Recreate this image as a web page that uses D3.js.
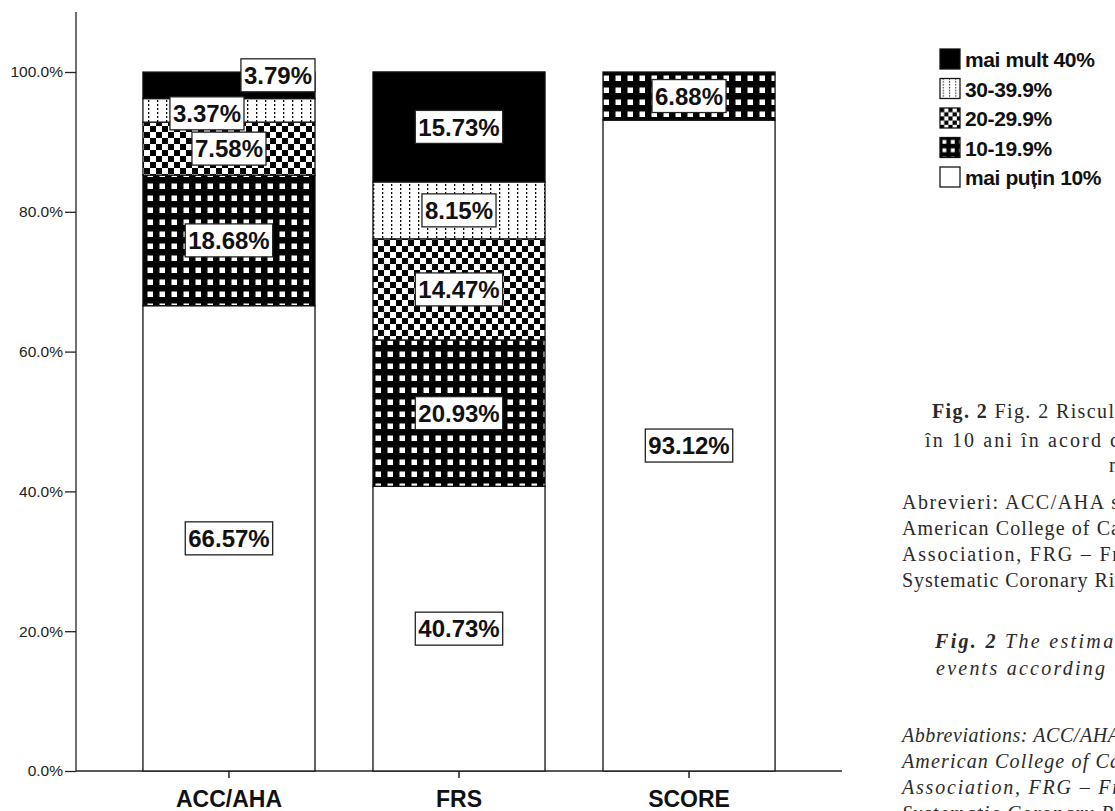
<!DOCTYPE html>
<html>
<head>
<meta charset="utf-8">
<script src="https://cdn.jsdelivr.net/npm/d3@7"></script>
<style>
  html, body { margin: 0; padding: 0; background: #fff; }
  svg { display: block; }
</style>
</head>
<body>
<div id="chart"></div>
<script>
/* ------------------------------------------------------------
   DATA
------------------------------------------------------------- */
const categories = ["ACC/AHA", "FRS", "SCORE"];
const groups = ["mai puțin 10%", "10-19.9%", "20-29.9%", "30-39.9%", "mai mult 40%"];
const accAha = [66.57, 18.68, 7.58, 3.37, 3.79];
const frs = [40.73, 20.93, 14.47, 8.15, 15.73];
const score = [93.12, 6.88, 0, 0, 0];
const yTicks = [0, 20, 40, 60, 80, 100];

const seriesByCat = [accAha, frs, score];

/* ------------------------------------------------------------
   SVG SETUP
------------------------------------------------------------- */
const W = 1115, H = 811;
const svg = d3.select("#chart").append("svg")
    .attr("width", W).attr("height", H);

const sans = "'Liberation Sans', Arial, sans-serif";
const serif = "'Liberation Serif', 'Times New Roman', serif";

/* ------------------------------------------------------------
   PATTERNS
------------------------------------------------------------- */
const defs = svg.append("defs");

// 10-19.9%: black with white squares
const p10 = defs.append("pattern").attr("id", "p10")
    .attr("patternUnits", "userSpaceOnUse").attr("width", 12).attr("height", 12);
p10.append("rect").attr("width", 12).attr("height", 12).attr("fill", "#000");
p10.append("rect").attr("x", 3.5).attr("y", 3.5).attr("width", 5.5).attr("height", 5.5).attr("fill", "#fff");

// 20-29.9%: checkerboard
const p20 = defs.append("pattern").attr("id", "p20")
    .attr("patternUnits", "userSpaceOnUse").attr("width", 12).attr("height", 12);
p20.append("rect").attr("width", 12).attr("height", 12).attr("fill", "#fff");
p20.append("rect").attr("width", 6).attr("height", 6).attr("fill", "#000");
p20.append("rect").attr("x", 6).attr("y", 6).attr("width", 6).attr("height", 6).attr("fill", "#000");

// 30-39.9%: dotted vertical lines
const p30 = defs.append("pattern").attr("id", "p30")
    .attr("patternUnits", "userSpaceOnUse").attr("width", 9).attr("height", 4);
p30.append("rect").attr("width", 9).attr("height", 4).attr("fill", "#fff");
p30.append("rect").attr("x", 4).attr("y", 0).attr("width", 1.3).attr("height", 2).attr("fill", "#000");

const fills = ["#fff", "url(#p10)", "url(#p20)", "url(#p30)", "#000"];

/* ------------------------------------------------------------
   SCALES
------------------------------------------------------------- */
const x = d3.scaleBand()
    .domain(categories)
    .range([76, 842])
    .paddingInner(0.252)
    .paddingOuter(0.291);

const y = d3.scaleLinear().domain([0, 100]).range([771, 72]);

/* ------------------------------------------------------------
   STACK
------------------------------------------------------------- */
const table = categories.map((c, i) => {
    const row = { cat: c };
    groups.forEach((g, j) => { row[g] = seriesByCat[i][j]; });
    return row;
});
const stacked = d3.stack().keys(groups)(table);

/* ------------------------------------------------------------
   AXES
------------------------------------------------------------- */
const yAxis = svg.append("g")
    .attr("transform", "translate(76,0)")
    .call(d3.axisLeft(y).tickValues(yTicks).tickSize(11).tickPadding(2)
        .tickFormat(d => d3.format(".1f")(d) + "%"));
yAxis.select(".domain").remove();
yAxis.selectAll(".tick line").attr("stroke", "#222").attr("stroke-width", 1.3);
yAxis.selectAll(".tick text")
    .attr("font-family", sans).attr("font-size", 15.5).attr("fill", "#222");

svg.append("line")
    .attr("x1", 76).attr("x2", 76).attr("y1", 12).attr("y2", 771)
    .attr("stroke", "#222").attr("stroke-width", 1.3);
svg.append("line")
    .attr("x1", 76).attr("x2", 842).attr("y1", 771).attr("y2", 771)
    .attr("stroke", "#222").attr("stroke-width", 1.3);

const xAxis = svg.append("g")
    .attr("transform", "translate(0,771)")
    .call(d3.axisBottom(x).tickSize(7).tickPadding(8));
xAxis.select(".domain").remove();
xAxis.selectAll(".tick line").attr("stroke", "#222").attr("stroke-width", 1.5);
xAxis.selectAll(".tick text")
    .attr("font-family", sans).attr("font-size", 23).attr("font-weight", "bold")
    .attr("fill", "#111").attr("dy", "0.9em");

/* ------------------------------------------------------------
   BARS
------------------------------------------------------------- */
const layers = svg.append("g").selectAll("g")
    .data(stacked).enter().append("g")
    .attr("fill", (d, i) => fills[i]);

layers.selectAll("rect")
    .data(d => d.filter(s => s[1] - s[0] > 0))
    .enter().append("rect")
    .attr("x", d => x(d.data.cat))
    .attr("width", x.bandwidth())
    .attr("y", d => y(d[1]))
    .attr("height", d => y(d[0]) - y(d[1]))
    .attr("stroke", "#111")
    .attr("stroke-width", 1.3);

/* ------------------------------------------------------------
   VALUE LABELS (boxed, with a simple overlap nudge)
------------------------------------------------------------- */
const labelG = svg.append("g");
const boxH = 33, padX = 3;

categories.forEach((c, ci) => {
    let prev = null;
    groups.forEach((g, gi) => {
        const seg = stacked[gi][ci];
        const v = seg[1] - seg[0];
        if (v <= 0) return;
        const cy = y((seg[0] + seg[1]) / 2);
        const lg = labelG.append("g");
        const t = lg.append("text")
            .attr("font-family", sans).attr("font-size", 24).attr("font-weight", "bold")
            .attr("fill", "#111").attr("text-anchor", "middle")
            .text(v.toFixed(2) + "%");
        const tw = t.node().getComputedTextLength();
        const bw = tw + padX * 2;
        let cx = x(c) + x.bandwidth() / 2;
        let ly = cy;
        if (prev && cy + boxH / 2 > prev.top) {
            // collision: this one to the right edge, the one below slides left
            cx = x(c) + x.bandwidth() - bw / 2;
            ly = cy - 10;
            prev.g.attr("transform", "translate(-22,3)");
        }
        lg.insert("rect", "text")
            .attr("x", cx - bw / 2).attr("y", ly - boxH / 2)
            .attr("width", bw).attr("height", boxH)
            .attr("fill", "#fff").attr("stroke", "#222").attr("stroke-width", 1.3);
        t.attr("x", cx).attr("y", ly + 8.8);
        prev = { g: lg, top: ly - boxH / 2 };
    });
});

/* ------------------------------------------------------------
   LEGEND
------------------------------------------------------------- */
const legend = svg.append("g").attr("transform", "translate(940,49)");
const legendRows = groups.slice().reverse();
legendRows.forEach((g, i) => {
    const gi = groups.indexOf(g);
    const row = legend.append("g").attr("transform", `translate(0,${i * 29.5})`);
    row.append("g").attr("transform", "scale(0.7)")
        .append("rect")
        .attr("width", 20 / 0.7).attr("height", 20 / 0.7)
        .attr("fill", fills[gi]).attr("stroke", "#111").attr("stroke-width", 1.8);
    row.append("text")
        .attr("x", 25).attr("y", 18)
        .attr("font-family", sans).attr("font-size", 21).attr("font-weight", "bold")
        .attr("letter-spacing", -0.4)
        .attr("fill", "#111")
        .text(g);
});

/* ------------------------------------------------------------
   CAPTION TEXT (cropped at the right edge as in the source)
------------------------------------------------------------- */
const caption = svg.append("g")
    .attr("font-family", serif).attr("font-size", 20).attr("fill", "#2a2a2a");

function capLine(x0, yb, parts, endX, italic) {
    const t = caption.append("text").attr("x", x0).attr("y", yb)
        .attr("font-style", italic ? "italic" : "normal");
    parts.forEach(p => {
        t.append("tspan").attr("font-weight", p.b ? "bold" : "normal").text(p.s);
    });
    if (endX) t.attr("textLength", endX - x0).attr("lengthAdjust", "spacing");
}

capLine(932, 418, [{ s: "Fig. 2", b: true }, { s: " Fig. 2 Riscul" }], 1114);
capLine(925, 447, [{ s: "în 10 ani în acord c" }], 1119);
capLine(1109, 472, [{ s: "n" }]);
capLine(902, 509, [{ s: "Abrevieri:  ACC/AHA  s" }], 1119);
capLine(902, 535, [{ s: "American College of Ca" }], 1120);
capLine(902, 561, [{ s: "Association,  FRG  –  Fr" }], 1119);
capLine(902, 587, [{ s: "Systematic Coronary Ris" }], 1123);

capLine(935, 648, [{ s: "Fig. 2", b: true }, { s: " The estimat" }], 1121, true);
capLine(936, 675, [{ s: "events according t" }], 1120, true);
capLine(902, 742, [{ s: "Abbreviations: ACC/AHA" }], 1120, true);
capLine(902, 768, [{ s: "American  College  of  Ca" }], 1120, true);
capLine(902, 794, [{ s: "Association,  FRG  –  Fr" }], 1120, true);
capLine(902, 820, [{ s: "Systematic  Coronary  Ri" }], 1120, true);
</script>
</body>
</html>
